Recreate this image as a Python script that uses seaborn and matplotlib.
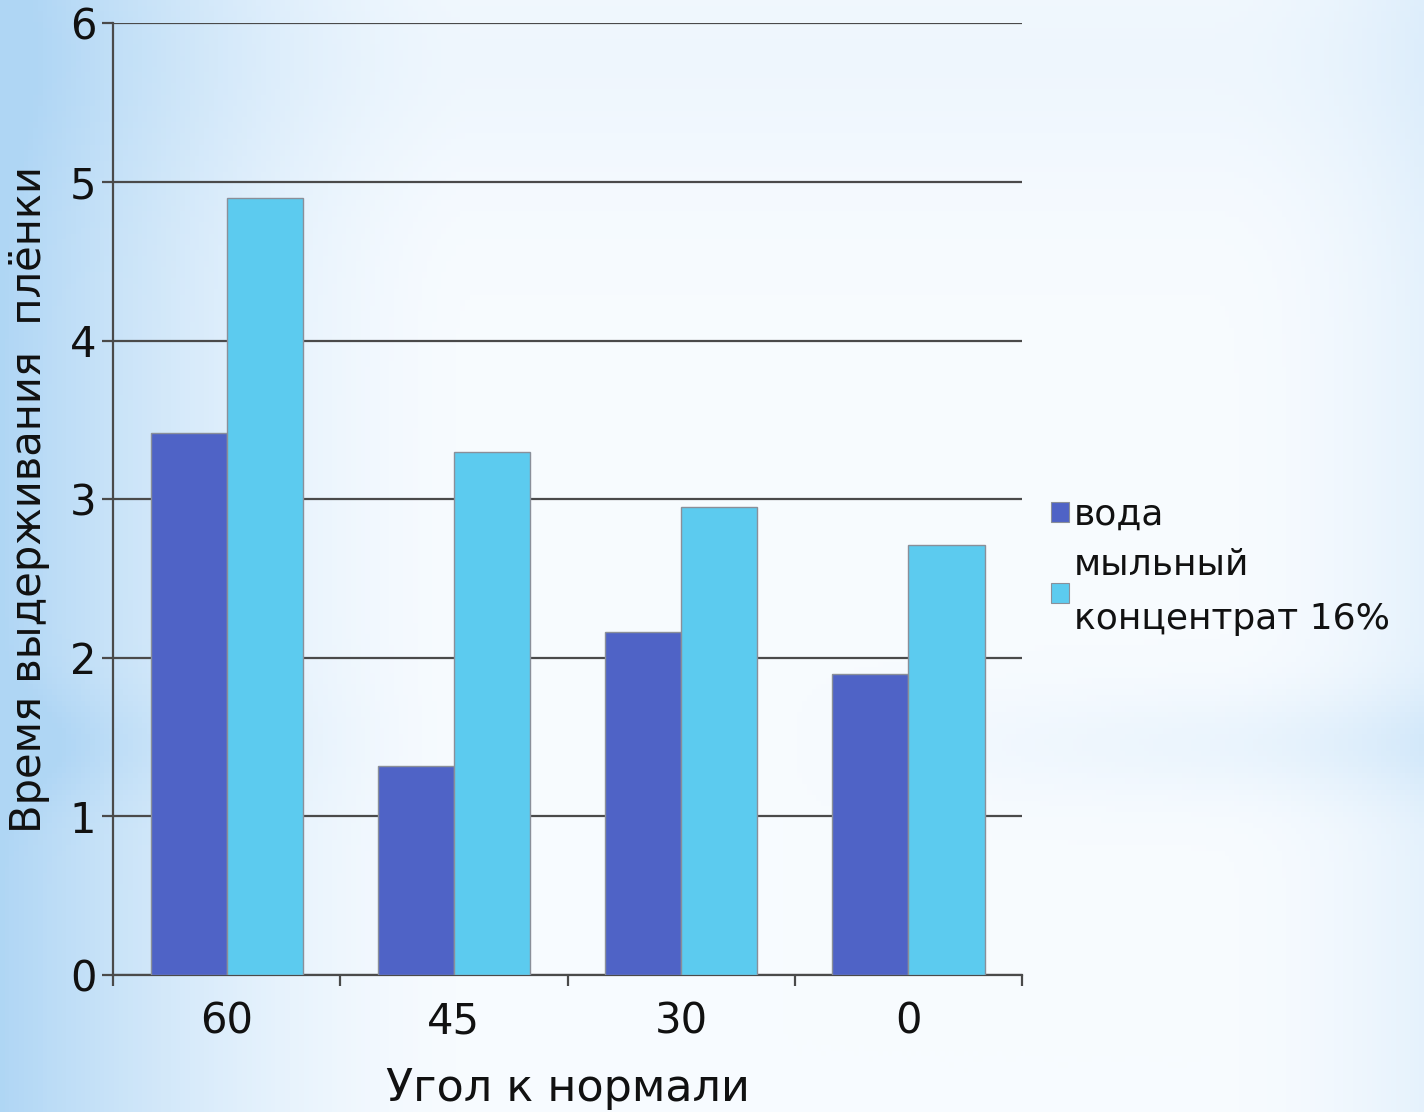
import numpy as np
import pandas as pd
import matplotlib
matplotlib.use("Agg")
import matplotlib.pyplot as plt
import seaborn as sns
from matplotlib.patches import Patch

angles = ["60", "45", "30", "0"]
water = [3.42, 1.32, 2.16, 1.90]
soap = [4.90, 3.30, 2.95, 2.71]
series_names = ["вода", "мыльный\nконцентрат 16%"]
colors = ["#4F63C6", "#5CCBEF"]
y_ticks = [0, 1, 2, 3, 4, 5, 6]
x_label = "Угол к нормали"
y_label = "Время выдерживания  плёнки"

df = pd.DataFrame({
    "angle": angles * 2,
    "value": water + soap,
    "series": [series_names[0]] * len(angles) + [series_names[1]] * len(angles),
})

sns.set_theme(style="white")
plt.rcParams["font.family"] = ["DejaVu Sans"]
plt.rcParams["text.color"] = "#111111"

fig = plt.figure(figsize=(14.24, 11.12), dpi=100)

# background gradient
bg = fig.add_axes([0, 0, 1, 1], zorder=-10)
H, W = 200, 300
xx = np.linspace(0, 1, W)[None, :]
yy = np.linspace(0, 1, H)[:, None]
left = np.clip(1 - xx / 0.33, 0, 1) ** 1.6
right = np.clip((xx - 0.85) / 0.15, 0, 1) ** 2 * 0.25
band = np.exp(-((yy - 0.67) / 0.05) ** 2) * (0.25 * np.clip((xx - 0.55) / 0.45, 0, 1) + 0.25 * left)
topband = np.exp(-((yy - 0.05) / 0.12) ** 2) * 0.12
t = np.clip(left + right + band + topband, 0, 1)
white = np.array([0.97, 0.985, 1.0])
blue = np.array([0.69, 0.84, 0.96])
img = white[None, None, :] * (1 - t[..., None]) + blue[None, None, :] * t[..., None]
bg.imshow(img, aspect="auto", extent=[0, 1, 0, 1], origin="upper")
bg.axis("off")

ax = fig.add_axes([0.0794, 0.1232, 0.7177 - 0.0794, 0.979 - 0.1232])
ax.patch.set_alpha(0)
sns.barplot(data=df, x="angle", y="value", hue="series", order=angles,
            hue_order=series_names, palette=colors, width=0.67, gap=0,
            edgecolor="#8a8f99", linewidth=1.0, saturation=1, ax=ax, legend=False, zorder=3)

ax.set_ylim(0, 6)
ax.set_xlim(-0.5, len(angles) - 0.5)
ax.set_yticks(y_ticks)
ax.set_yticklabels([str(v) for v in y_ticks], fontsize=30, color="#111111")
ax.yaxis.grid(True, color="#4a4a4a", linewidth=1.6, zorder=0)
ax.set_axisbelow(True)
for s in ["top", "right"]:
    ax.spines[s].set_visible(False)
for s in ["left", "bottom"]:
    ax.spines[s].set_color("#4a4a4a")
    ax.spines[s].set_linewidth(1.6)

# x tick marks at category boundaries, labels at centers
ax.set_xticks(np.arange(-0.5, len(angles), 1.0), minor=False)
ax.set_xticklabels([])
ax.set_xticks(np.arange(len(angles)), minor=True)
ax.set_xticklabels(angles, minor=True, fontsize=30, color="#111111")
ax.tick_params(axis="x", which="major", direction="out", length=8, width=1.6, color="#4a4a4a", bottom=True)
ax.tick_params(axis="x", which="minor", length=0, pad=18)
ax.tick_params(axis="y", direction="out", length=8, width=1.6, color="#4a4a4a", left=True, pad=4)

ax.set_xlabel(x_label, fontsize=32, labelpad=18, color="#111111")
ax.set_ylabel(y_label, fontsize=30, labelpad=14, color="#111111")

handles = [Patch(facecolor=c, edgecolor="#8a8f99", linewidth=0.8) for c in colors]
leg = fig.legend(handles, series_names, loc="center left", bbox_to_anchor=(0.715, 0.49),
                 frameon=False, fontsize=26, handlelength=0.5, handleheight=0.5,
                 handletextpad=0.15, labelspacing=0.45)
for txt in leg.get_texts():
    txt.set_linespacing(1.75)

fig.savefig("out.png", dpi=100)
